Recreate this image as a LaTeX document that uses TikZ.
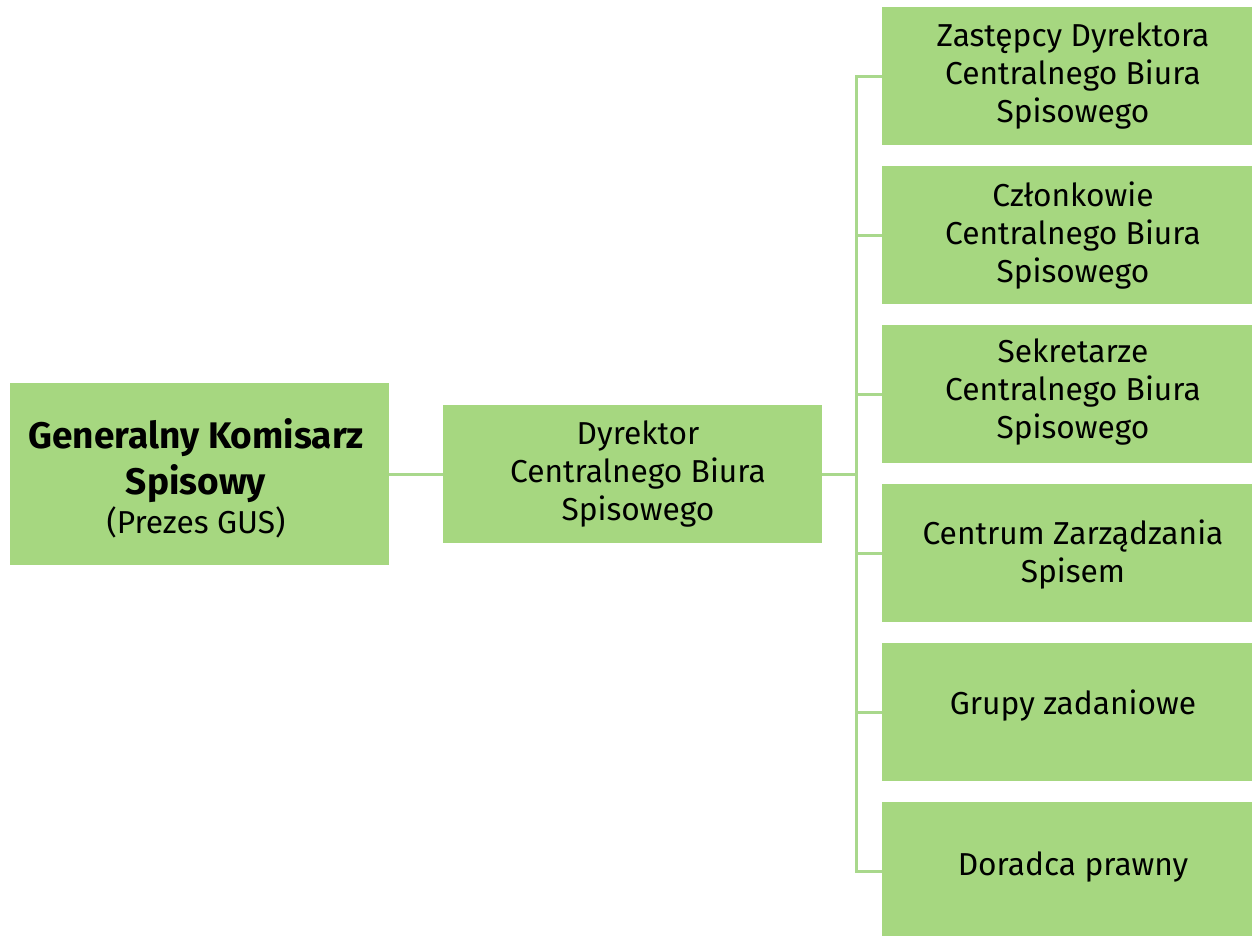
\documentclass[tikz,border=0pt]{standalone}
\usepackage{fontspec}
\setmainfont{Fira Sans}
\usetikzlibrary{calc}
\definecolor{boxgreen}{HTML}{A6D780}
\definecolor{linegreen}{HTML}{A9D88C}
\newcommand{\bigbf}{\fontsize{37}{44}\selectfont\bfseries}
\tikzset{
  orgbox/.style={fill=boxgreen, draw=none, minimum width=380pt, inner sep=0pt, anchor=north west},
  txt/.style={align=center, font=\fontsize{31.7}{38}\selectfont, text=black, inner sep=0pt},
  conn/.style={draw=linegreen, line width=3pt}
}
\begin{document}
\begin{tikzpicture}[x=1pt,y=-1pt]
\useasboundingbox (0,0) rectangle (1252,936);
\begin{scope}
\clip (0,0) rectangle (1252,936);
% boxes
\node[orgbox, minimum width=379pt, minimum height=182pt] (gks) at (10,383) {};
\node[orgbox, minimum width=379pt, minimum height=138pt] (dyr) at (443,405) {};
\node[orgbox, minimum height=138pt] (r1) at (882,7) {};
\node[orgbox, minimum height=138pt] (r2) at (882,166) {};
\node[orgbox, minimum height=138pt] (r3) at (882,325) {};
\node[orgbox, minimum height=138pt] (r4) at (882,484) {};
\node[orgbox, minimum height=138pt] (r5) at (882,643) {};
\node[orgbox, minimum height=138pt] (r6) at (882,802) {};
% texts
\node[txt] (t0) at (196,478) {\bigbf Generalny Komisarz\\[7pt]\bigbf Spisowy\\[1pt](Prezes GUS)};
\node[txt] (t1) at (638,473.5) {Dyrektor\\Centralnego Biura\\Spisowego};
\node[txt] (tr1) at (1073,76) {Zastępcy Dyrektora\\Centralnego Biura\\Spisowego};
\node[txt] (tr2) at (1073,236) {Członkowie\\Centralnego Biura\\Spisowego};
\node[txt] (tr3) at (1073,392) {Sekretarze\\Centralnego Biura\\Spisowego};
\node[txt] (tr4) at (1073,555) {Centrum Zarządzania\\Spisem};
\node[txt] (tr5) at (1073,706) {Grupy zadaniowe};
\node[txt] (tr6) at (1073,867) {Doradca prawny};
% connectors
\coordinate (bus) at (856,474);
\draw[conn] (gks.east |- 0,474) -- (dyr.west |- 0,474);
\draw[conn] (dyr.east |- 0,474) -- (bus);
\draw[conn] (r1.west) -| (bus |- r6.west) -- (r6.west);
\foreach \n in {r2,r3,r4,r5} \draw[conn] (bus |- \n.west) -- (\n.west);
\end{scope}
\end{tikzpicture}
\end{document}
